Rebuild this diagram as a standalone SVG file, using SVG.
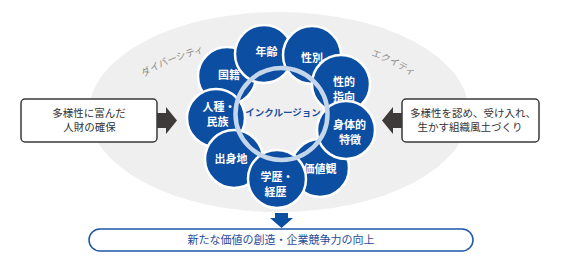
<svg xmlns="http://www.w3.org/2000/svg" width="569" height="268" viewBox="0 0 569 268">
<defs>
<style>
.bg{fill:#efefef}
.c{fill:#0b4ea2;stroke:#ffffff;stroke-width:2.5}
.lbl{font-family:"Noto Sans CJK JP","Noto Sans",sans-serif;font-size:11px;font-weight:bold;fill:#ffffff;text-anchor:middle}
.box{fill:#ffffff;stroke:#3a3a3a;stroke-width:1.5}
.bt{font-family:"Noto Sans CJK JP","Noto Sans",sans-serif;font-size:10.5px;fill:#333333;text-anchor:middle}
.arc{font-family:"Noto Sans CJK JP","Noto Sans",sans-serif;font-size:9.5px;fill:#8a8a8a}
.darr{fill:#3d3a39}
.barr{fill:#0b4ea2}
</style>
<path id="pd" d="M144,77 Q166,62 212,50"/>
<path id="pe" d="M371,56 Q389,61 412,76"/>
</defs>
<ellipse class="bg" cx="279" cy="112" rx="190" ry="100"/>
<g id="labels-arc">
<text class="arc"><textPath href="#pd">ダイバーシティ</textPath></text>
<text class="arc"><textPath href="#pe">エクイティ</textPath></text>
</g>
<g id="n-kokuseki"><circle class="c" cx="227" cy="76" r="29"/><text class="lbl" x="229" y="79">国籍</text></g>
<g id="n-nenrei"><circle class="c" cx="264" cy="54" r="29"/><text class="lbl" x="266.5" y="56">年齢</text></g>
<g id="n-seibetsu"><circle class="c" cx="312" cy="55" r="29"/><text class="lbl" x="312" y="62">性別</text></g>
<g id="n-seitekishikou"><circle class="c" cx="341" cy="84" r="29"/><text class="lbl" x="344" y="85.5">性的</text><text class="lbl" x="344" y="100.5">指向</text></g>
<g id="n-kachikan"><circle class="c" cx="320" cy="168" r="29"/><text class="lbl" x="320" y="173">価値観</text></g>
<g id="n-shintai"><circle class="c" cx="346" cy="130" r="29"/><text class="lbl" x="349.5" y="129">身体的</text><text class="lbl" x="350" y="144">特徴</text></g>
<g id="n-jinshu"><circle class="c" cx="216" cy="118" r="29"/><text class="lbl" x="219" y="110.5">人種・</text><text class="lbl" x="217.5" y="125.5">民族</text></g>
<g id="n-shusshin"><circle class="c" cx="234" cy="159" r="29"/><text class="lbl" x="231" y="163">出身地</text></g>
<g id="n-gakureki"><circle class="c" cx="277" cy="179" r="29"/><text class="lbl" x="277" y="181">学歴・</text><text class="lbl" x="275.5" y="196">経歴</text></g>
<g id="inclusion">
<circle cx="281.5" cy="114" r="46" fill="none" stroke="#c5d6ea" stroke-width="4.5"/>
<text x="283" y="115.5" font-family="'Noto Sans CJK JP','Noto Sans',sans-serif" font-size="9.5" font-weight="bold" fill="#1a4f9f" text-anchor="middle">インクルージョン</text>
</g>
<g id="left-box">
<rect class="box" x="21" y="99" width="136" height="43" rx="4"/>
<text class="bt" x="89" y="116.5">多様性に富んだ</text>
<text class="bt" x="89.5" y="130.5">人財の確保</text>
</g>
<g id="right-box">
<rect class="box" x="402" y="99" width="137" height="43" rx="4"/>
<text class="bt" x="473" y="116.5">多様性を認め、受け入れ、</text>
<text class="bt" x="470" y="130.5">生かす組織風土づくり</text>
</g>
<g id="bottom-box">
<rect x="89" y="229" width="384" height="22" rx="11" fill="#ffffff" stroke="#1f56a8" stroke-width="1.5"/>
<text x="281" y="244" font-family="'Noto Sans CJK JP','Noto Sans',sans-serif" font-size="11" fill="#1f4e9c" text-anchor="middle">新たな価値の創造・企業競争力の向上</text>
</g>
<g id="connectors">
<polygon class="darr" points="157,113 166,113 166,107 177,120.5 166,134 166,128 157,128"/>
<polygon class="darr" points="402,113 393,113 393,107 382,120.5 393,134 393,128 402,128"/>
<polygon class="barr" points="275,213 288,213 288,218 293,218 281.5,228 270,218 275,218"/>
</g>
</svg>
